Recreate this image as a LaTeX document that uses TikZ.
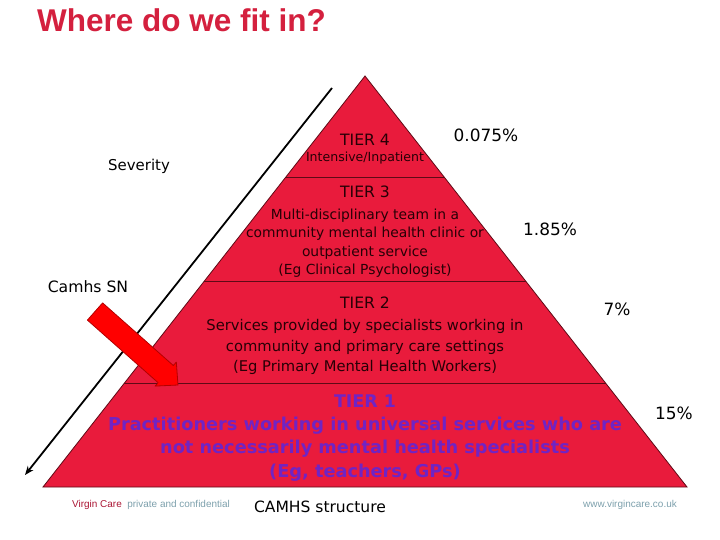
\documentclass[tikz,border=0pt]{standalone}
\usepackage{fontspec}
\setmainfont{Liberation Sans}
\newfontfamily\tahoma{DejaVu Sans}
\newfontfamily\tahomabold{DejaVuSans-Bold.ttf}
\usepackage{xcolor}
\usepackage{tikz}
\usetikzlibrary{arrows.meta,positioning,calc}

\definecolor{tiercol}{RGB}{233,27,60}
\definecolor{edgecol}{RGB}{95,10,22}
\definecolor{titlecol}{RGB}{212,32,62}
\definecolor{tieronecol}{RGB}{112,36,196}
\definecolor{darktext}{RGB}{40,0,6}
\definecolor{footcol}{RGB}{125,160,172}
\definecolor{virgincol}{RGB}{170,22,52}

\begin{document}
\begin{tikzpicture}[x=1bp, y=-1bp,
tierlbl/.style={text=darktext, font=\tahoma\fontsize{15.7}{18}\selectfont, inner sep=0pt},
tiertxt/.style={text=darktext, align=center, inner sep=0pt},
pct/.style={font=\tahoma\fontsize{17}{19}\selectfont, inner sep=0pt},
side/.style={font=\tahoma\fontsize{15}{17}\selectfont, inner sep=0pt},
divider/.style={draw=edgecol, line width=0.9bp},
foot/.style={font=\fontsize{10}{12}\selectfont, inner sep=0pt}
]
\useasboundingbox (0,0) rectangle (720,540);

% title
\node[anchor=west, inner sep=0pt, text=titlecol, font=\bfseries\fontsize{31.6}{34}\selectfont] (title) at (37,20) {Where do we fit in?};

% pyramid
\coordinate (apex) at (365,76);
\coordinate (bl) at (43,487);
\coordinate (br) at (687,487);
\fill[tiercol] (apex) -- (bl) -- (br) -- cycle;
\foreach \f/\n in {0.248/a, 0.499/b, 0.749/c} {
  \coordinate (l\n) at ($(apex)!\f!(bl)$);
  \coordinate (r\n) at ($(apex)!\f!(br)$);
  \draw[divider] (l\n) -- (r\n);
}
\draw[draw=edgecol, line width=0.8bp] (apex) -- (bl) -- (br) -- cycle;

% tiers
\node[tierlbl] (tier4) at (365,140) {TIER 4};
\node[tiertxt, font=\tahoma\fontsize{12.6}{14}\selectfont] (tier4txt) at (365,158) {Intensive/Inpatient};
\node[tierlbl] (tier3) at (365,192) {TIER 3};
\node[tiertxt, font=\tahoma\fontsize{13.9}{18.5}\selectfont] (tier3txt) at (365,243) {Multi-disciplinary team in a\\community mental health clinic or\\outpatient service\\(Eg Clinical Psychologist)};
\node[tierlbl] (tier2) at (365,303) {TIER 2};
\node[tiertxt, font=\tahoma\fontsize{14.8}{21}\selectfont] (tier2txt) at (365,347) {Services provided by specialists working in\\community and primary care settings\\(Eg Primary Mental Health Workers)};
\node[tierlbl, text=tieronecol, font=\tahomabold\fontsize{17.5}{19}\selectfont] (tier1) at (365,401) {TIER 1};
\node[tiertxt, text=tieronecol, font=\tahomabold\fontsize{17.8}{23.5}\selectfont] (tier1txt) at (365,449) {Practitioners working in universal services who are\\not necessarily mental health specialists\\(Eg, teachers, GPs)};

% percentages
\node[pct] (p4) at (486,135) {0.075\%};
\node[pct] (p3) at (550,229) {1.85\%};
\node[pct] (p2) at (617,309) {7\%};
\node[pct] (p1) at (674,413) {15\%};

% severity line
\node[side] (sev) at (139,166) {Severity};
\coordinate (sevtop) at (332,88);
\coordinate (sevbot) at (25,475);
\draw[line width=1.8bp, -{Stealth[length=9bp, width=7bp]}] (sevtop) -- (sevbot);

% camhs arrow
\node[side, font=\tahoma\fontsize{15.7}{17}\selectfont] (camhs) at (88,287) {Camhs SN};
\draw[fill=red, draw=red!70!black, line width=0.8bp, line join=round]
  (87.4,320.1) -- (102.6,302.9) -- (173.3,365.5) -- (176.3,362.1) -- (178,385)
  -- (155.1,386.1) -- (158.1,382.7) -- cycle;

% footer
\node[foot, anchor=west] (conf) at (72,505) {\textcolor{virgincol}{Virgin Care}\ \ \textcolor{footcol}{private and confidential}};
\node[inner sep=0pt, font=\tahoma\fontsize{15.6}{17}\selectfont] (camhsstr) at (320,507) {CAMHS structure};
\node[foot, anchor=east, text=footcol] (web) at (677,505) {www.virgincare.co.uk};
\end{tikzpicture}
\end{document}
